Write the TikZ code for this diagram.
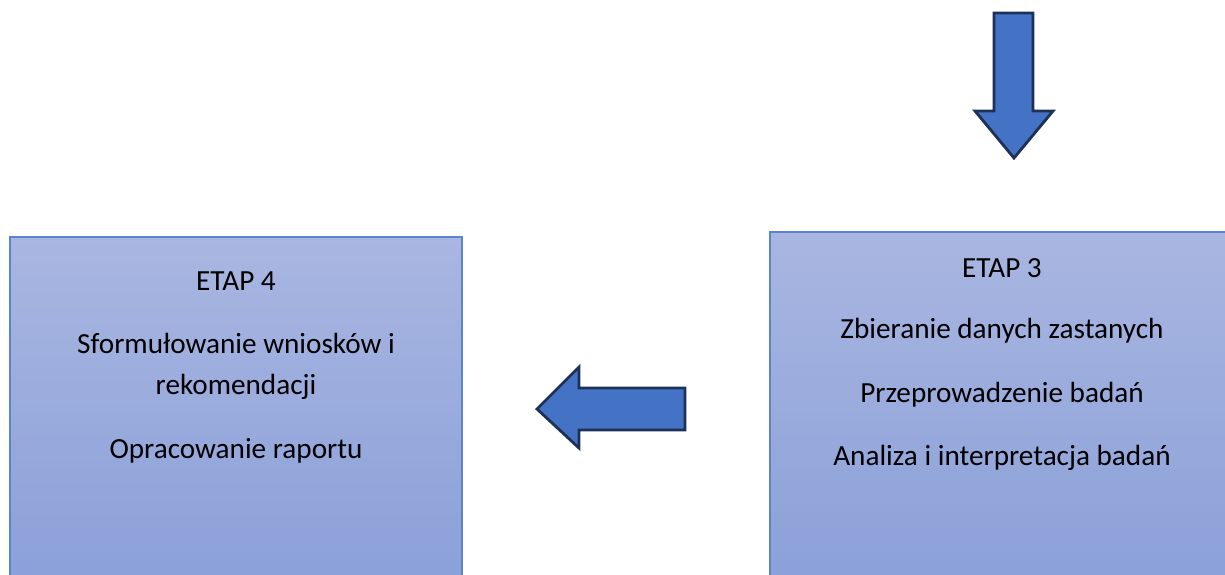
\documentclass[tikz,border=0pt]{standalone}
\usepackage{fontspec}
\setmainfont{Carlito}
\definecolor{boxtop}{RGB}{169,182,225}
\definecolor{boxbot}{RGB}{137,159,216}
\definecolor{boxline}{RGB}{91,132,208}
\definecolor{arrfill}{RGB}{68,114,196}
\definecolor{arrline}{RGB}{28,48,88}
\begin{document}
\begin{tikzpicture}[x=1pt,y=-1pt,
  stagebox/.style={top color=boxtop,bottom color=boxbot,draw=boxline,line width=1.3pt},
  blockarrow/.style={fill=arrfill,draw=arrline,line width=2.8pt,line join=miter},
  txt/.style={anchor=base,inner sep=0pt,font=\fontsize{29.2}{35}\selectfont,text=black}]
\useasboundingbox (0,0) rectangle (1225,574);
\clip (0,0) rectangle (1225,574);
% boxes
\shade[stagebox] (10,237) rectangle (462,600);
\shade[stagebox] (770,232) rectangle (1245,600);
% down arrow
\draw[blockarrow] (994,13) -- (1033,13) -- (1033,111) -- (1053,111) -- (1014,158)
  -- (975,111) -- (994,111) -- cycle;
% left arrow
\draw[blockarrow] (685,388) -- (685,430) -- (579,430) -- (579,448) -- (537,409)
  -- (579,367) -- (579,388) -- cycle;
% texts stage 4
\node[txt] (e4) at (236,290) {ETAP 4};
\node[txt] (s4a) at (236,353) {Sformułowanie wniosków i};
\node[txt] (s4b) at (236,394) {rekomendacji};
\node[txt] (s4c) at (236,458) {Opracowanie raportu};
% texts stage 3
\node[txt] (e3) at (1002,277) {ETAP 3};
\node[txt] (s3a) at (1002,338) {Zbieranie danych zastanych};
\node[txt] (s3b) at (1002,402) {Przeprowadzenie badań};
\node[txt] (s3c) at (1002,465) {Analiza i interpretacja badań};
\end{tikzpicture}
\end{document}
